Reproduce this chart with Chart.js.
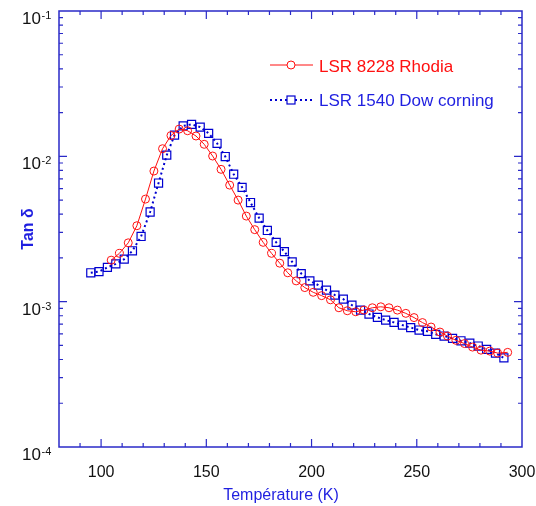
<!DOCTYPE html>
<html>
<head>
<meta charset="utf-8">
<script src="https://cdn.jsdelivr.net/npm/chart.js@4.4.0/dist/chart.umd.min.js"></script>
<style>
  html, body { margin: 0; padding: 0; background: #fff; }
  #wrap { width: 536px; height: 506px; }
</style>
</head>
<body>
<div id="wrap"><canvas id="tanChart" width="536" height="506"></canvas></div>
<script>
const rhodiaTemps = [104.8, 108.7, 112.9, 117, 121.1, 125.1, 129.2, 133.2, 137.1, 141.1,
  145.1, 149, 153, 157, 161.1, 165.1, 169, 173, 177, 181,
  184.9, 188.7, 192.7, 196.8, 200.8, 204.8, 209, 213, 217, 221,
  224.9, 228.9, 232.9, 236.8, 240.8, 244.8, 248.7, 252.7, 256.8, 261,
  264.6, 268.6, 272.7, 276.5, 280.5, 284.7, 288.4, 293.2];
const rhodiaTan = [1.93e-3, 2.15e-3, 2.54e-3, 3.33e-3, 5.08e-3, 7.92e-3, 1.128e-2, 1.39e-2, 1.54e-2, 1.50e-2,
  1.38e-2, 1.21e-2, 1.005e-2, 8.14e-3, 6.34e-3, 5.0e-3, 3.88e-3, 3.13e-3, 2.56e-3, 2.15e-3,
  1.84e-3, 1.58e-3, 1.39e-3, 1.25e-3, 1.16e-3, 1.10e-3, 1.03e-3, 9.08e-4, 8.66e-4, 8.52e-4,
  8.75e-4, 9.08e-4, 9.22e-4, 9.08e-4, 8.75e-4, 8.31e-4, 7.77e-4, 7.18e-4, 6.69e-4, 6.18e-4,
  5.80e-4, 5.42e-4, 5.15e-4, 4.87e-4, 4.64e-4, 4.57e-4, 4.43e-4, 4.48e-4];

const dowTemps = [95.1, 99, 103, 107, 111, 114.9, 119, 123.3, 127.3, 131.2,
  134.9, 139, 143, 147.1, 151.1, 155.1, 159, 163, 167, 171,
  175.1, 179, 183.2, 187.1, 190.8, 195.1, 199.2, 203.2, 207.1, 211.1,
  215.1, 219.2, 223.3, 227.3, 231.3, 235.2, 239.2, 243.2, 247.1, 251.1,
  255.1, 259, 263, 267, 271, 275.2, 279.2, 283.2, 287.4, 291.4];
const dowTan = [1.58e-3, 1.61e-3, 1.72e-3, 1.82e-3, 1.96e-3, 2.24e-3, 2.81e-3, 4.14e-3, 6.55e-3, 1.02e-2,
  1.40e-2, 1.62e-2, 1.66e-2, 1.59e-2, 1.44e-2, 1.23e-2, 9.97e-3, 7.53e-3, 6.12e-3, 4.81e-3,
  3.76e-3, 3.09e-3, 2.56e-3, 2.21e-3, 1.88e-3, 1.56e-3, 1.39e-3, 1.30e-3, 1.20e-3, 1.11e-3,
  1.04e-3, 9.47e-4, 8.75e-4, 8.22e-4, 7.80e-4, 7.47e-4, 7.20e-4, 6.90e-4, 6.63e-4, 6.38e-4,
  6.25e-4, 5.96e-4, 5.80e-4, 5.59e-4, 5.38e-4, 5.19e-4, 4.95e-4, 4.70e-4, 4.43e-4, 4.10e-4];

const xTickLabels = [100, 150, 200, 250, 300];
const yDecades = [-4, -3, -2, -1];
const seriesNames = ["LSR 8228 Rhodia", "LSR 1540 Dow corning"];

const red = "#ff1010";
const blue = "#0000d0";
const axisBlue = "#2a2ac8";
const textBlue = "#1f1fe0";
const font = "Arial, 'Liberation Sans', sans-serif";

const frame = {
  id: "frame",
  afterDraw(chart) {
    const { ctx, chartArea: a, scales: { x, y } } = chart;
    ctx.save();
    ctx.strokeStyle = axisBlue;
    ctx.lineWidth = 1.5;
    ctx.strokeRect(a.left, a.top, a.right - a.left, a.bottom - a.top);

    ctx.lineWidth = 1.2;
    ctx.beginPath();
    for (let v = 90; v < 300; v += 10) {
      const px = x.getPixelForValue(v);
      const len = v % 50 === 0 ? 8 : 4;
      ctx.moveTo(px, a.bottom); ctx.lineTo(px, a.bottom - len);
      ctx.moveTo(px, a.top); ctx.lineTo(px, a.top + len);
    }
    yDecades.forEach((e) => {
      for (let m = 1; m <= 9; m++) {
        if (e === -1 && m > 1) break;
        const py = y.getPixelForValue(m * Math.pow(10, e));
        if (m === 1 && (e === -4 || e === -1)) continue;
        const len = m === 1 ? 8 : 4;
        ctx.moveTo(a.left, py); ctx.lineTo(a.left + len, py);
        ctx.moveTo(a.right, py); ctx.lineTo(a.right - len, py);
      }
    });
    ctx.stroke();

    // tick labels
    ctx.fillStyle = "#111";
    ctx.font = "16px " + font;
    ctx.textAlign = "center";
    ctx.textBaseline = "alphabetic";
    xTickLabels.forEach((v) => ctx.fillText(String(v), x.getPixelForValue(v), 477));

    yDecades.forEach((e) => {
      const py = y.getPixelForValue(Math.pow(10, e));
      ctx.font = "17px " + font;
      ctx.textAlign = "right";
      ctx.fillText("10", 41, py + 13);
      ctx.font = "11px " + font;
      ctx.textAlign = "left";
      ctx.fillText(String(e), 41.5, py + 8);
    });

    // axis titles
    ctx.fillStyle = textBlue;
    ctx.font = "16px " + font;
    ctx.textAlign = "center";
    ctx.fillText("Température (K)", 281, 500);
    ctx.save();
    ctx.translate(29, 229);
    ctx.rotate(-Math.PI / 2);
    ctx.font = "bold 16px " + font;
    ctx.textBaseline = "middle";
    ctx.fillText("Tan δ", 0, 0);
    ctx.restore();

    // legend
    ctx.lineWidth = 1;
    ctx.strokeStyle = red;
    ctx.beginPath();
    ctx.moveTo(270, 65); ctx.lineTo(313, 65);
    ctx.stroke();
    ctx.beginPath();
    ctx.fillStyle = "#fff";
    ctx.arc(291, 65, 4, 0, Math.PI * 2);
    ctx.fill(); ctx.stroke();
    ctx.fillStyle = red;
    ctx.font = "17px " + font;
    ctx.textAlign = "left";
    ctx.fillText(seriesNames[0], 319, 72);

    ctx.strokeStyle = blue;
    ctx.lineWidth = 2;
    ctx.setLineDash([2, 3]);
    ctx.beginPath();
    ctx.moveTo(270, 100); ctx.lineTo(313, 100);
    ctx.stroke();
    ctx.setLineDash([]);
    ctx.lineWidth = 1.2;
    ctx.fillStyle = "#fff";
    ctx.fillRect(287, 96, 8, 8);
    ctx.strokeRect(287, 96, 8, 8);
    ctx.fillStyle = textBlue;
    ctx.fillText(seriesNames[1], 319, 106);
    ctx.restore();
  },
};

new Chart(document.getElementById("tanChart"), {
  type: "line",
  data: {
    datasets: [
      {
        label: seriesNames[0],
        data: rhodiaTemps.map((t, i) => ({ x: t, y: rhodiaTan[i] })),
        borderColor: red,
        borderWidth: 1,
        pointStyle: "circle",
        pointRadius: 4,
        pointBorderWidth: 1,
        pointBorderColor: red,
        pointBackgroundColor: "rgba(0,0,0,0)",
        tension: 0,
      },
      {
        label: seriesNames[1],
        data: dowTemps.map((t, i) => ({ x: t, y: dowTan[i] })),
        borderColor: blue,
        borderWidth: 2,
        borderDash: [2, 3],
        pointStyle: "rect",
        pointRadius: 5.7,
        pointBorderWidth: 1.2,
        pointBorderColor: blue,
        pointBackgroundColor: "rgba(0,0,0,0)",
        tension: 0,
      },
    ],
  },
  options: {
    responsive: false,
    animation: false,
    layout: { padding: { top: 11, right: 14, left: 0, bottom: 0 } },
    plugins: { legend: { display: false }, tooltip: { enabled: false } },
    scales: {
      x: {
        type: "linear",
        min: 80,
        max: 300,
        grid: { display: false },
        border: { display: false },
        ticks: { display: false },
        afterFit(scale) { scale.height = 59; },
      },
      y: {
        type: "logarithmic",
        min: 1e-4,
        max: 1e-1,
        grid: { display: false },
        border: { display: false },
        ticks: { display: false },
        afterFit(scale) { scale.width = 59; },
      },
    },
  },
  plugins: [frame],
});
</script>
</body>
</html>
